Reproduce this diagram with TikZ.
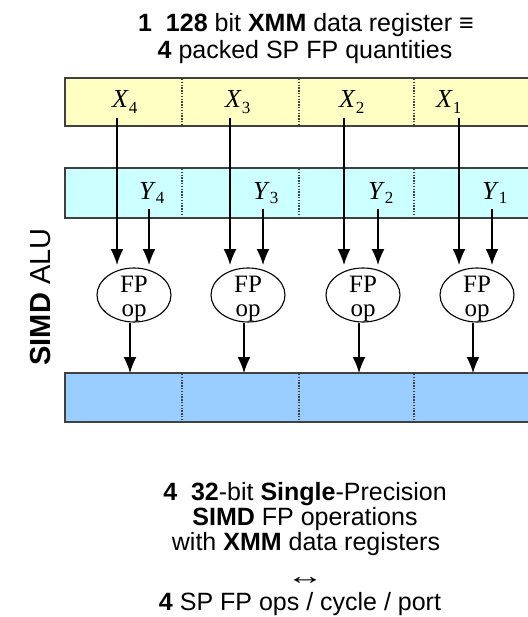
\documentclass[tikz,border=0pt]{standalone}
\usepackage{fontspec}
\setmainfont{Liberation Sans}
\newfontfamily\seriffont{Liberation Serif}
\usetikzlibrary{arrows.meta,shapes.geometric}
\definecolor{regY}{HTML}{FFFFC4}
\definecolor{regC}{HTML}{CCFFFF}
\definecolor{regB}{HTML}{99CCFF}
\definecolor{bord}{HTML}{404040}
\begin{document}
\begin{tikzpicture}[x=1pt,y=-1pt,
  reg/.style={draw=bord, line width=1.6pt, inner sep=0pt, outer sep=0pt, minimum width=466pt, minimum height=48pt, anchor=north west},
  divider/.style={draw=bord, line width=1.5pt, dash pattern=on 1.4pt off 1.4pt},
  arr/.style={line width=1.5pt, -{Latex[length=16pt,width=13pt]}},
  fpop/.style={draw, ellipse, line width=1.1pt, minimum width=74pt, minimum height=54pt, inner sep=0pt},
  fptxt/.style={inner sep=0pt, anchor=base, font=\seriffont\fontsize{25}{25}\selectfont},
  lbl/.style={inner sep=0pt, anchor=base west, font=\seriffont\fontsize{26}{26}\selectfont},
  ttl/.style={inner sep=0pt, anchor=base, font=\fontsize{25}{27}\selectfont}]
\useasboundingbox (0,0) rectangle (527,617);

% title
\node[ttl] (t1) at (306,32) {\textbf{1}\ \ \textbf{128} bit \textbf{XMM} data register ≡};
\node[ttl] (t2) at (305,59) {\textbf{4} packed SP FP quantities};

% registers
\node[reg, fill=regY] (xreg) at (65,78) {};
\node[reg, fill=regC, minimum height=50pt] (yreg) at (65,168) {};
\node[reg, fill=regB, minimum height=49pt] (res) at (65,373) {};
\foreach \x in {182,299,414}{
  \draw[divider] (\x,79) -- (\x,125);
  \draw[divider] (\x,169) -- (\x,217);
  \draw[divider] (\x,374) -- (\x,421);
}

% side label
\node[rotate=90, anchor=base, inner sep=0pt, font=\fontsize{29}{29}\selectfont] (alu) at (50,297) {\textbf{SIMD} ALU};

% columns
\foreach \i/\xa/\ya/\ec/\sub/\xl/\yl in {1/117/149/134/4/112/139, 2/230/263/248/3/225/253, 3/344/378/363/2/339/368, 4/459/492/477/1/436/482}{
  \node[lbl] (xl\i) at (\xl,108) {\textit{X}\raisebox{-6pt}{\fontsize{17}{17}\selectfont\sub}};
  \node[lbl] (yl\i) at (\yl,200) {\textit{Y}\raisebox{-4pt}{\fontsize{17}{17}\selectfont\sub}};
  \node[fpop] (e\i) at (\ec,295) {};
  \node[fptxt] (f\i) at (\ec,292) {FP};
  \node[fptxt] (o\i) at (\ec,316) {op};
  \coordinate (xs\i) at (\xa,118);
  \coordinate (xe\i) at (\xa,265);
  \coordinate (ys\i) at (\ya,209);
  \coordinate (ye\i) at (\ya,265);
  \draw[arr] (xs\i) -- (xe\i);
  \draw[arr] (ys\i) -- (ye\i);
  \draw[arr] ([xshift=-4pt]e\i.south) -- ([xshift=-4pt]e\i.south |- res.north);
}

% bottom text
\node[ttl] (b1) at (305,500) {\textbf{4}\ \ \textbf{32}-bit \textbf{Single}-Precision};
\node[ttl] (b2) at (305,525) {\textbf{SIMD} FP operations};
\node[ttl] (b3) at (306,550) {with \textbf{XMM} data registers};
\node[ttl] (b4) at (305,584) {\scalebox{1.5}[1]{↔}};
\node[ttl] (b5) at (300,610) {\textbf{4} SP FP ops / cycle / port};
\end{tikzpicture}
\end{document}
